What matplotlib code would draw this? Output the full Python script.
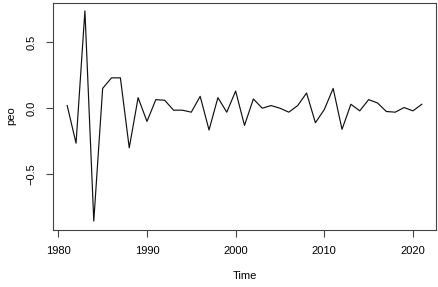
import matplotlib
matplotlib.use("Agg")
import matplotlib.pyplot as plt

years = list(range(1981, 2022))
peo = [0.02, -0.265, 0.737, -0.855, 0.15, 0.23, 0.23, -0.30, 0.08, -0.10,
       0.065, 0.06, -0.015, -0.015, -0.03, 0.09, -0.165, 0.08, -0.03, 0.13,
       -0.13, 0.07, 0.0, 0.02, 0.0, -0.03, 0.02, 0.115, -0.11, -0.01,
       0.15, -0.16, 0.03, -0.02, 0.065, 0.04, -0.025, -0.03, 0.005, -0.02, 0.03]
xticks = [1980, 1990, 2000, 2010, 2020]
yticks = [-0.5, 0.0, 0.5]
ylabels = ["\u22120.5", "0.0", "0.5"]

plt.rcParams['font.family'] = ['Liberation Sans', 'DejaVu Sans']
fig = plt.figure(figsize=(4.39, 2.87), dpi=100)
ax = fig.add_axes([53/439, 1 - 229.5/287, (436-53)/439, (229.5-2.5)/287])
ax.plot(years, peo, color='#111111', linewidth=0.85)
xmin, xmax = min(years), max(years)
dx = (xmax - xmin) * 0.04
ax.set_xlim(xmin - dx, xmax + dx)
ymin, ymax = min(peo), max(peo)
dy = (ymax - ymin) * 0.04
ax.set_ylim(ymin - dy, ymax + dy)
ax.set_xticks(xticks)
ax.set_xticklabels([str(t) for t in xticks], fontsize=8)
ax.set_yticks(yticks)
ax.set_yticklabels(ylabels, fontsize=8, rotation=90, va='center')
ax.tick_params(direction='out', length=5, width=0.8, pad=7, colors='black')
ax.tick_params(axis='both', color='#444444')
for s in ax.spines.values():
    s.set_linewidth(0.8)
    s.set_color('#444444')
ax.set_xlabel("Time", fontsize=8, labelpad=11)
ax.set_ylabel("peo", fontsize=8, labelpad=7)
fig.savefig("out.png", dpi=100)
